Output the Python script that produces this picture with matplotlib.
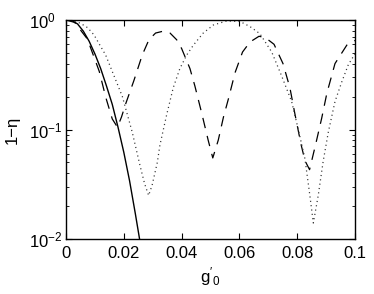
import matplotlib
matplotlib.use("Agg")
import matplotlib.pyplot as plt
from matplotlib.ticker import LogLocator, NullFormatter

plt.rcParams['font.family'] = ['Liberation Sans', 'DejaVu Sans']
plt.rcParams['mathtext.fontset'] = 'custom'
plt.rcParams['mathtext.rm'] = 'Liberation Sans'
plt.rcParams['mathtext.it'] = 'Liberation Sans:italic'

# solid curve
g_solid = [0, 0.002, 0.004, 0.006, 0.008, 0.010, 0.012, 0.014, 0.016, 0.018,
           0.020, 0.022, 0.024, 0.0256]
y_solid = [1.0, 0.99, 0.92, 0.79, 0.64, 0.49, 0.36, 0.25, 0.17, 0.105,
           0.062, 0.034, 0.017, 0.0095]

# dashed curve
g_dash = [0, 0.003, 0.0074, 0.0115, 0.0138, 0.016, 0.0178, 0.0192, 0.0206,
          0.0235, 0.0264, 0.0287, 0.031, 0.0336, 0.036, 0.0383, 0.040, 0.0429,
          0.0446, 0.047, 0.0492, 0.0508, 0.0527, 0.0545, 0.0562, 0.0585,
          0.0611, 0.0637, 0.0668, 0.069, 0.072, 0.0751, 0.0775, 0.0792,
          0.0813, 0.0827, 0.0843, 0.0865, 0.0885, 0.0903, 0.0931, 0.0972, 0.1]
y_dash = [1.0, 0.95, 0.67, 0.34, 0.195, 0.125, 0.105, 0.13, 0.17,
          0.28, 0.48, 0.66, 0.76, 0.79, 0.76, 0.66, 0.55, 0.36,
          0.25, 0.14, 0.08, 0.055, 0.08, 0.13, 0.19, 0.33,
          0.51, 0.63, 0.71, 0.69, 0.60, 0.40, 0.24, 0.14,
          0.074, 0.052, 0.043, 0.075, 0.127, 0.215, 0.40, 0.59, 0.65]

# dotted curve
g_dot = [0, 0.003, 0.0051, 0.0075, 0.0097, 0.0114, 0.0137, 0.0166, 0.0195,
         0.0229, 0.0256, 0.0272, 0.0286, 0.0298, 0.0316, 0.0325, 0.0348,
         0.0371, 0.0394, 0.0418, 0.0441, 0.0475, 0.051, 0.0556, 0.0602,
         0.0637, 0.0671, 0.0712, 0.0746, 0.0781, 0.0804, 0.0827, 0.0844,
         0.0856, 0.0873, 0.089, 0.0908, 0.0931, 0.0954, 0.0977, 0.1]
y_dot = [1.0, 0.98, 0.93, 0.85, 0.73, 0.61, 0.48, 0.31, 0.20,
         0.095, 0.047, 0.032, 0.025, 0.031, 0.05, 0.072, 0.135,
         0.24, 0.36, 0.48, 0.59, 0.76, 0.90, 0.98, 0.97,
         0.87, 0.75, 0.51, 0.31, 0.18, 0.10, 0.054, 0.025,
         0.014, 0.025, 0.051, 0.095, 0.18, 0.27, 0.39, 0.49]

fig = plt.figure(figsize=(3.74, 2.94), dpi=100)
ax = fig.add_axes([0.1765, 0.187, 0.7725, 0.745])

ax.plot(g_solid, y_solid, '-', color='black', lw=1.0)
ax.plot(g_dash, y_dash, '--', color='black', lw=0.9, dashes=(8.4, 6.4))
ax.plot(g_dot, y_dot, ':', color='#333333', lw=0.9, dashes=(0.9, 2.6))

ax.set_yscale('log')
ax.set_xlim(0, 0.1)
ax.set_ylim(1e-2, 1)
ax.set_xticks([0, 0.02, 0.04, 0.06, 0.08, 0.1])
ax.set_xticklabels(['0', '0.02', '0.04', '0.06', '0.08', '0.1'])
ax.yaxis.set_major_locator(LogLocator(base=10, numticks=5))
ax.yaxis.set_minor_locator(LogLocator(base=10, subs=range(2, 10), numticks=10))
ax.yaxis.set_minor_formatter(NullFormatter())

ax.tick_params(which='both', direction='in', top=True, right=True, labelsize=12)
ax.tick_params(which='major', length=4, width=0.8)
ax.tick_params(which='minor', length=2, width=0.6)
ax.tick_params(axis='x', pad=5)
ax.tick_params(axis='y', pad=26.5)
for lab in ax.get_yticklabels():
    lab.set_horizontalalignment('left')
for s in ax.spines.values():
    s.set_linewidth(1.0)

ax.set_xlabel(r"$\mathregular{g'_0}$", fontsize=12)
ax.set_ylabel("1\u2212\u03b7", fontsize=12)
ax.xaxis.set_label_coords(0.5, -0.118)
ax.yaxis.set_label_coords(-0.159, 0.5)

fig.savefig("out.png", dpi=100)
